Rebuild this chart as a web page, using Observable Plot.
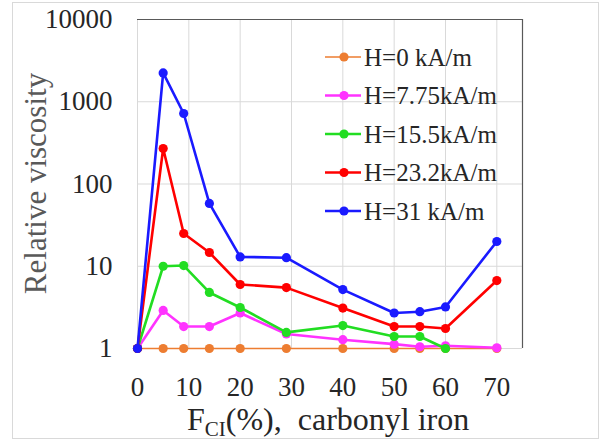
<!DOCTYPE html>
<html>
<head>
<meta charset="utf-8">
<script src="https://cdn.jsdelivr.net/npm/d3@7"></script>
<script src="https://cdn.jsdelivr.net/npm/@observablehq/plot@0.6"></script>
<style>
  html, body { margin: 0; padding: 0; background: #fff; }
  svg text, svg tspan { font-family: "Liberation Serif", "Times New Roman", serif !important; }
</style>
</head>
<body>
<div id="chart"></div>
<script>
const xValues = [0, 5, 9, 14, 20, 29, 40, 50, 55, 60, 70];
const seriesNames = ["H=0 kA/m", "H=7.75kA/m", "H=15.5kA/m", "H=23.2kA/m", "H=31 kA/m"];
const seriesColors = ["#ed7d31", "#ff33ff", "#22dd22", "#ff0000", "#1a1aff"];
const h0 = [1, 1, 1, 1, 1, 1, 1, 1, 1, 1, 1];
const h775 = [1, 2.9, 1.85, 1.85, 2.7, 1.5, 1.28, 1.13, 1.05, 1.08, 1.02];
const h155 = [1, 10, 10.2, 4.8, 3.15, 1.57, 1.9, 1.4, 1.4, 1.0];
const h232 = [1, 270, 25, 14.7, 6.0, 5.5, 3.1, 1.85, 1.85, 1.75, 6.7];
const h31 = [1, 2240, 720, 58, 13, 12.7, 5.2, 2.7, 2.8, 3.2, 20];
const xTicks = [0, 10, 20, 30, 40, 50, 60, 70];
const yTicks = [1, 10, 100, 1000, 10000];

const seriesValues = [h0, h775, h155, h232, h31];
const series = seriesNames.map((name, i) => ({
  name, color: seriesColors[i],
  rows: seriesValues[i].map((v, j) => ({x: xValues[j], v, series: name}))
}));

const marks = [
  Plot.gridX(xTicks, {stroke: "#d9d9d9", strokeOpacity: 1}),
  Plot.gridY(yTicks, {stroke: "#d9d9d9", strokeOpacity: 1}),
  Plot.ruleY([10000], {stroke: "#595959", strokeWidth: 1.2}),
  Plot.ruleX([75], {stroke: "#595959", strokeWidth: 1.2}),
  Plot.axisX({ticks: xTicks, tickSize: 0, tickPadding: 28, fontSize: 27, label: null}),
  Plot.axisY({ticks: yTicks, tickSize: 0, tickPadding: 25, fontSize: 27, label: null, tickFormat: d => String(d)})
];
series.forEach((s, i) => {
  marks.push(Plot.line(s.rows, {x: "x", y: "v", stroke: s.color, strokeWidth: i === 0 ? 1.6 : 2.6}));
  marks.push(Plot.dot(s.rows, {x: "x", y: "v", fill: s.color, r: 4.6}));
});

const chart = Plot.plot({
  width: 601,
  height: 443,
  marginLeft: 137,
  marginRight: 79,
  marginTop: 19,
  marginBottom: 95,
  style: {fontFamily: "Liberation Serif, serif", color: "#262626", background: "white", overflow: "visible"},
  x: {domain: [0, 75]},
  y: {type: "log", domain: [1, 10000]},
  marks
});
document.getElementById("chart").appendChild(chart);

const svg = d3.select(chart);
// outer border
svg.insert("rect", ":first-child")
  .attr("x", 12.5).attr("y", 2.5).attr("width", 586).attr("height", 436)
  .attr("fill", "none").attr("stroke", "#d9d9d9").attr("stroke-width", 1);

// y-axis label
svg.append("text")
  .attr("transform", "translate(46,183.5) rotate(-90)")
  .attr("text-anchor", "middle")
  .attr("font-size", 31)
  .attr("fill", "#595959")
  .text("Relative viscosity");

// x-axis label with subscript
const xl = svg.append("text")
  .attr("x", 187).attr("y", 430)
  .attr("text-anchor", "start")
  .attr("font-size", 32)
  .attr("fill", "#262626");
xl.append("tspan").text("F");
xl.append("tspan").attr("font-size", 21).attr("dy", 6).text("CI");
xl.append("tspan").attr("dy", -6).text("(%),\u00a0\u00a0carbonyl iron");

// legend
const lg = svg.append("g");
series.forEach((s, i) => {
  const cy = 57 + i * 38.5;
  lg.append("line").attr("x1", 325).attr("x2", 361).attr("y1", cy).attr("y2", cy)
    .attr("stroke", s.color).attr("stroke-width", i === 0 ? 1.6 : 2.6);
  lg.append("circle").attr("cx", 344).attr("cy", cy).attr("r", 4.6).attr("fill", s.color);
  lg.append("text").attr("x", 364).attr("y", cy + 8.5)
    .attr("text-anchor", "start")
    .attr("font-size", 25).attr("fill", "#262626")
    .text(s.name);
});
</script>
</body>
</html>
